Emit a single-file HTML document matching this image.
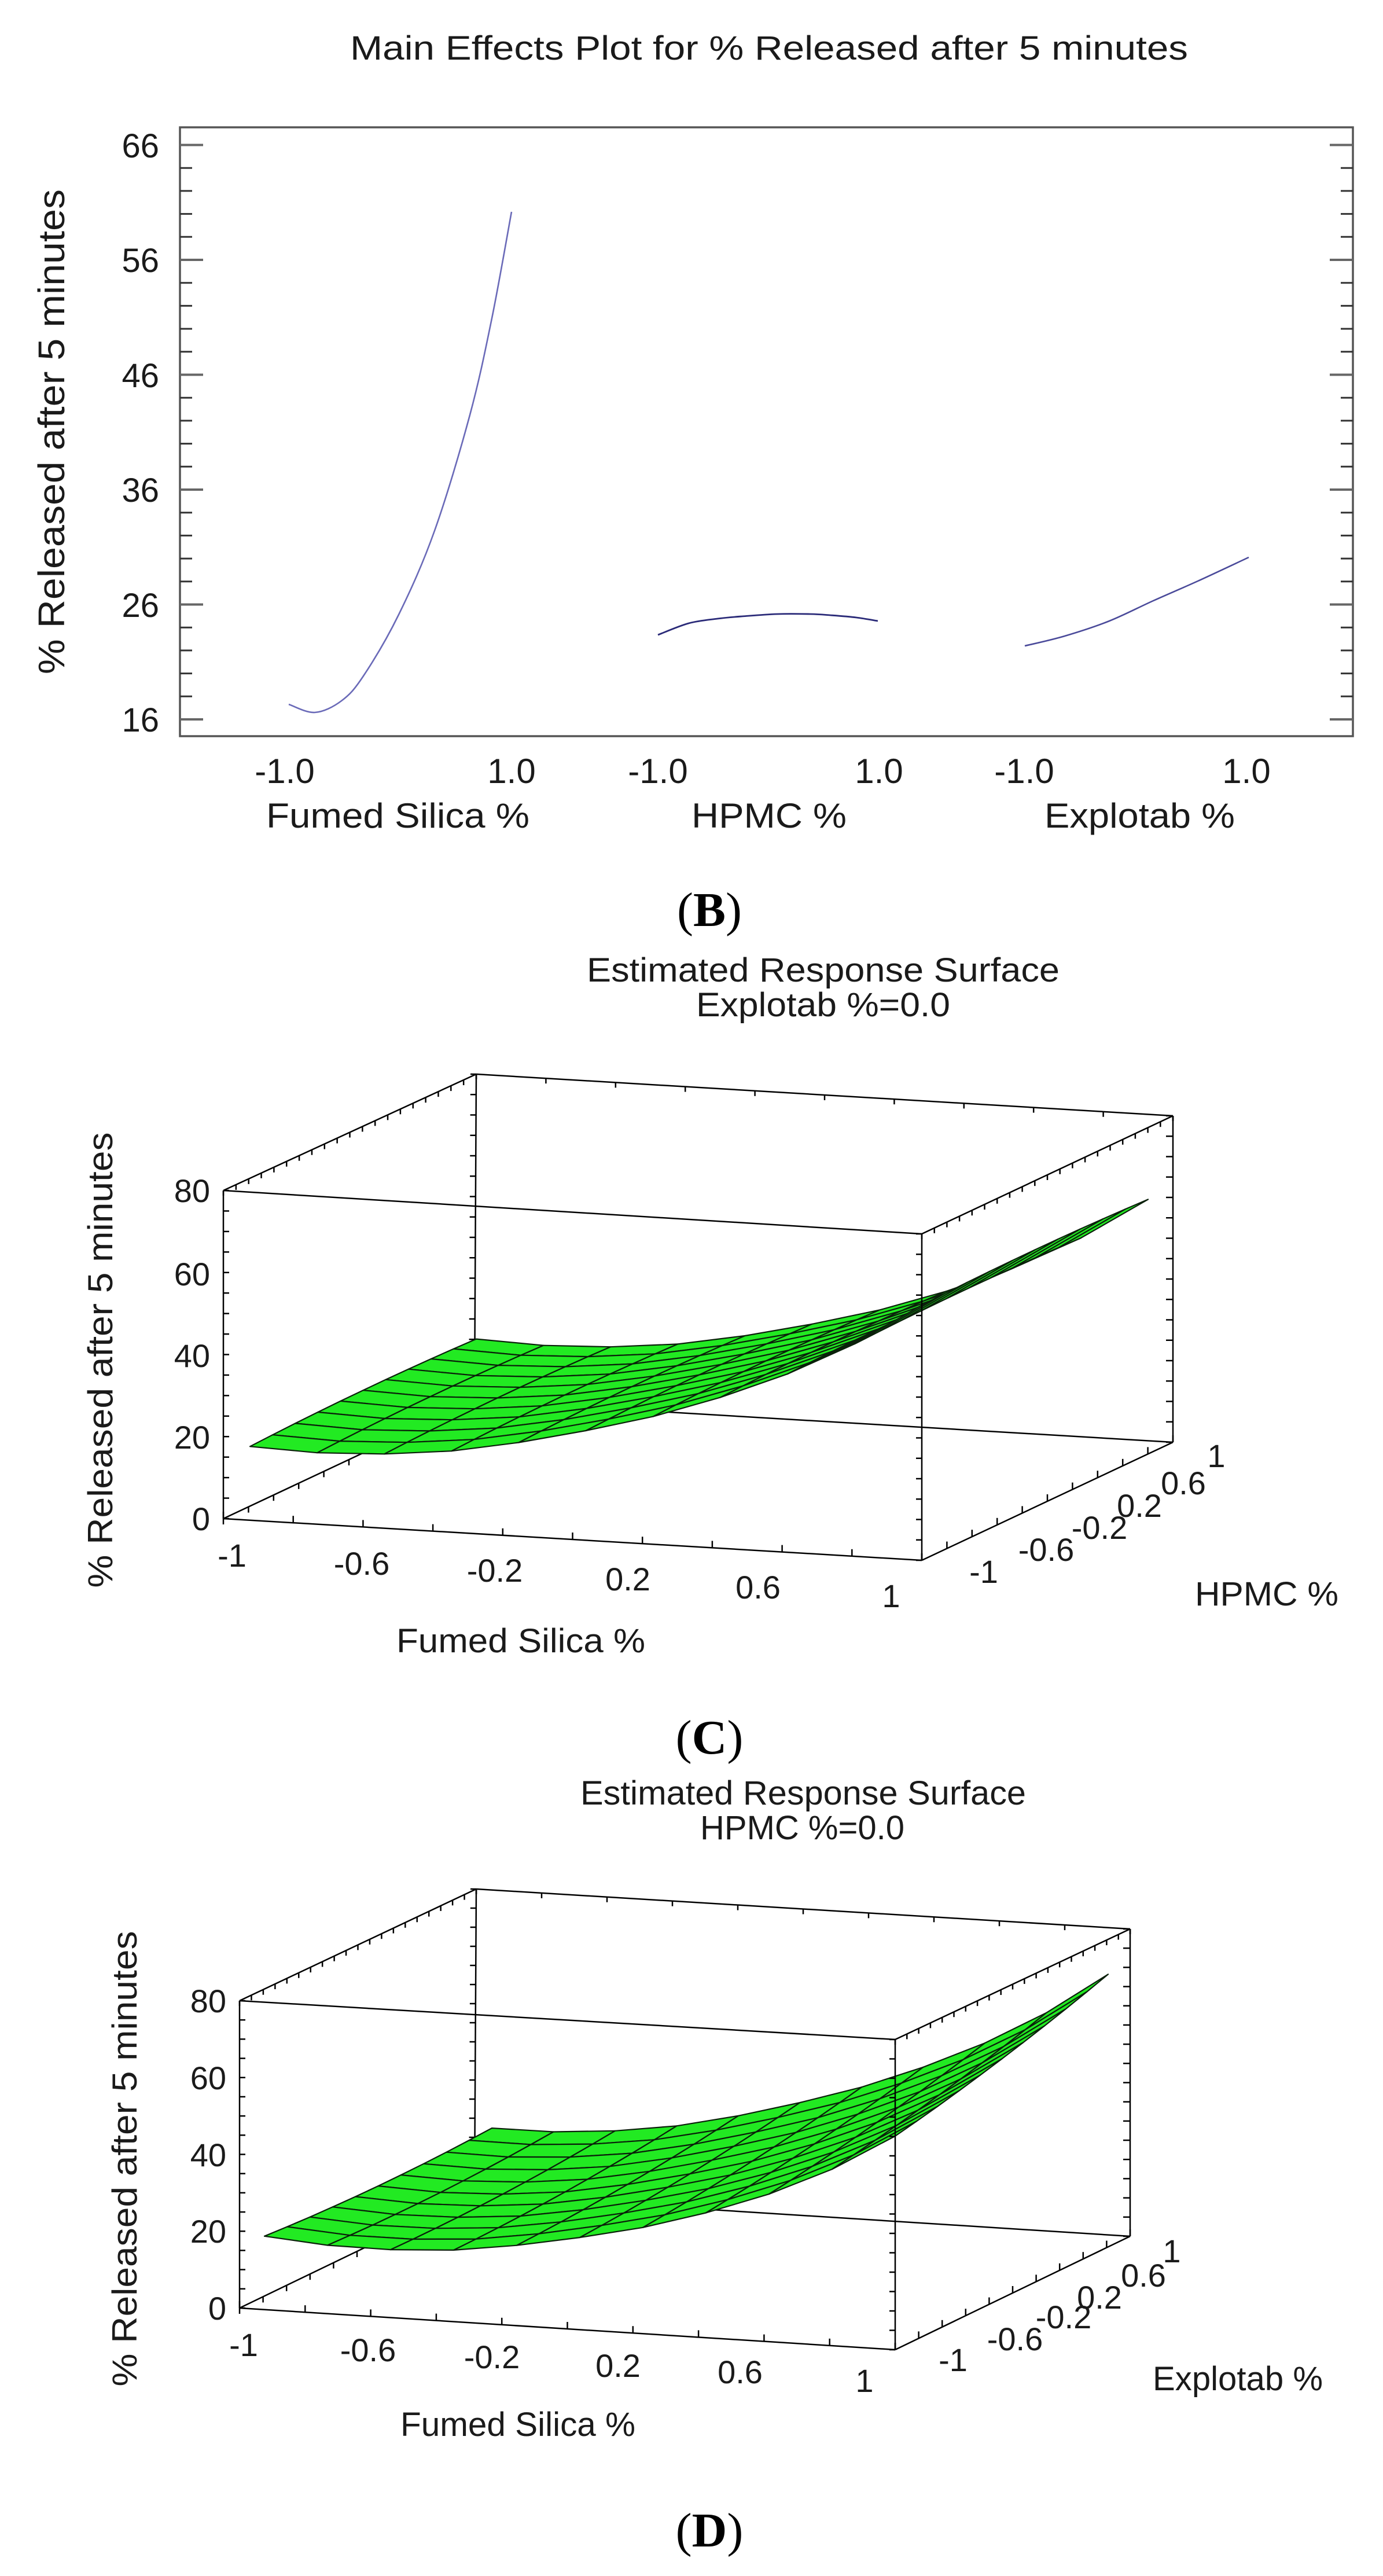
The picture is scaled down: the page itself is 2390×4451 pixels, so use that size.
<!DOCTYPE html>
<html><head><meta charset="utf-8"><style>
html,body{margin:0;padding:0;background:#fff}
svg{display:block}
text{font-family:"Liberation Sans",Arial,sans-serif;fill:#1a1a1a}
.serif{font-family:"Liberation Serif","Times New Roman",serif;fill:#000}
</style></head><body>
<svg id="s" xmlns="http://www.w3.org/2000/svg" width="2390" height="4451" viewBox="0 0 2390 4451">
<rect width="2390" height="4451" fill="#fff"/>
<g id="g1"></g>
<text x="605" y="103" font-size="58" textLength="1448" lengthAdjust="spacingAndGlyphs">Main Effects Plot for % Released after 5 minutes</text>
<g font-size="58" text-anchor="end">
<text x="275" y="272">66</text>
<text x="275" y="470">56</text>
<text x="275" y="669">46</text>
<text x="275" y="867">36</text>
<text x="275" y="1066">26</text>
<text x="275" y="1264">16</text>
</g>
<text transform="translate(111,746) rotate(-90)" text-anchor="middle" font-size="64" textLength="838" lengthAdjust="spacingAndGlyphs">% Released after 5 minutes</text>
<g font-size="60" text-anchor="middle">
<text x="492" y="1353">-1.0</text>
<text x="884" y="1353">1.0</text>
<text x="1137" y="1353">-1.0</text>
<text x="1519" y="1353">1.0</text>
<text x="1770" y="1353">-1.0</text>
<text x="2154" y="1353">1.0</text>
</g>
<g font-size="60">
<text x="460" y="1430" textLength="455" lengthAdjust="spacingAndGlyphs">Fumed Silica %</text>
<text x="1195" y="1430" textLength="268" lengthAdjust="spacingAndGlyphs">HPMC %</text>
<text x="1805" y="1430" textLength="329" lengthAdjust="spacingAndGlyphs">Explotab %</text>
</g>
<text class="serif" x="1226" y="1600" font-size="84" text-anchor="middle">(<tspan font-weight="bold">B</tspan>)</text>

<g id="g2"></g>
<text x="1014" y="1696" font-size="58" textLength="817" lengthAdjust="spacingAndGlyphs">Estimated Response Surface</text>
<text x="1203" y="1756" font-size="58" textLength="439" lengthAdjust="spacingAndGlyphs">Explotab %=0.0</text>
<g font-size="56" text-anchor="end">
<text x="363" y="2077">80</text>
<text x="363" y="2221">60</text>
<text x="363" y="2362">40</text>
<text x="363" y="2503">20</text>
<text x="363" y="2644">0</text>
</g>
<g font-size="56" text-anchor="middle">
<text x="401" y="2707">-1</text>
<text x="625" y="2721">-0.6</text>
<text x="855" y="2733">-0.2</text>
<text x="1085" y="2748">0.2</text>
<text x="1310" y="2762">0.6</text>
<text x="1540" y="2777">1</text>
<text x="1700" y="2735">-1</text>
<text x="1808" y="2697">-0.6</text>
<text x="1900" y="2659">-0.2</text>
<text x="1969" y="2621">0.2</text>
<text x="2045" y="2582">0.6</text>
<text x="2102" y="2535">1</text>
</g>
<text x="685" y="2855" font-size="58" textLength="430" lengthAdjust="spacingAndGlyphs">Fumed Silica %</text>
<text x="2065" y="2774" font-size="58" textLength="248" lengthAdjust="spacingAndGlyphs">HPMC %</text>
<text transform="translate(194,2350) rotate(-90)" text-anchor="middle" font-size="60" textLength="787" lengthAdjust="spacingAndGlyphs">% Released after 5 minutes</text>
<text class="serif" x="1226" y="3030" font-size="84" text-anchor="middle">(<tspan font-weight="bold">C</tspan>)</text>

<g id="g3"></g>
<text x="1003" y="3118" font-size="58" textLength="770" lengthAdjust="spacingAndGlyphs">Estimated Response Surface</text>
<text x="1210" y="3178" font-size="58" textLength="353" lengthAdjust="spacingAndGlyphs">HPMC %=0.0</text>
<g font-size="56" text-anchor="end">
<text x="391" y="3477">80</text>
<text x="391" y="3610">60</text>
<text x="391" y="3743">40</text>
<text x="391" y="3875">20</text>
<text x="391" y="4008">0</text>
</g>
<g font-size="56" text-anchor="middle">
<text x="421" y="4071">-1</text>
<text x="636" y="4080">-0.6</text>
<text x="850" y="4092">-0.2</text>
<text x="1068" y="4107">0.2</text>
<text x="1279" y="4118">0.6</text>
<text x="1494" y="4133">1</text>
<text x="1647" y="4097">-1</text>
<text x="1754" y="4061">-0.6</text>
<text x="1838" y="4023">-0.2</text>
<text x="1900" y="3989">0.2</text>
<text x="1976" y="3951">0.6</text>
<text x="2025" y="3909">1</text>
</g>
<text x="692" y="4209" font-size="58" textLength="406" lengthAdjust="spacingAndGlyphs">Fumed Silica %</text>
<text x="1992" y="4130" font-size="58" textLength="294" lengthAdjust="spacingAndGlyphs">Explotab %</text>
<text transform="translate(236,3730) rotate(-90)" text-anchor="middle" font-size="60" textLength="787" lengthAdjust="spacingAndGlyphs">% Released after 5 minutes</text>
<text class="serif" x="1226" y="4400" font-size="84" text-anchor="middle">(<tspan font-weight="bold">D</tspan>)</text>
</svg>
<script>
(function(){
var NS="http://www.w3.org/2000/svg";
function el(p,t,a){var e=document.createElementNS(NS,t);for(var k in a)e.setAttribute(k,a[k]);p.appendChild(e);return e;}
function line(p,a,b,w,c){el(p,'line',{x1:a[0],y1:a[1],x2:b[0],y2:b[1],stroke:c||'#000','stroke-width':w||2.5});}
function smooth(pts){var d='M'+pts[0][0]+','+pts[0][1];for(var i=0;i<pts.length-1;i++){var p0=pts[Math.max(0,i-1)],p1=pts[i],p2=pts[i+1],p3=pts[Math.min(pts.length-1,i+2)];var c1=[p1[0]+(p2[0]-p0[0])/6,p1[1]+(p2[1]-p0[1])/6],c2=[p2[0]-(p3[0]-p1[0])/6,p2[1]-(p3[1]-p1[1])/6];d+=' C'+c1[0].toFixed(1)+','+c1[1].toFixed(1)+' '+c2[0].toFixed(1)+','+c2[1].toFixed(1)+' '+p2[0]+','+p2[1];}return d;}
var g1=document.getElementById('g1');
el(g1,'rect',{x:311,y:220,width:2027,height:1052,fill:'none',stroke:'#555','stroke-width':3.5});
for(var v=16;v<=66;v+=2){var y=1243-(v-16)*19.85;var maj=((v-16)%10==0);var L=maj?40:21;
line(g1,[311,y],[311+L,y],maj?4:3,maj?'#666':'#333');line(g1,[2338,y],[2338-L,y],maj?4:3,maj?'#666':'#333');}
var fum=[[499,1217],[544,1231],[590,1211],[628,1168],[689,1062],[751,917],[812,717],[850,550],[884,366]];
var hp=[[1137,1097],[1190,1077],[1240,1069],[1282,1065],[1343,1061],[1400,1061],[1435,1063],[1480,1067],[1517,1073]];
var ex=[[1771,1116],[1840,1099],[1917,1073],[1993,1038],[2070,1004],[2158,963]];
el(g1,'path',{d:smooth(fum),fill:'none',stroke:'#6a6ab8','stroke-width':2.6});
el(g1,'path',{d:smooth(hp),fill:'none',stroke:'#2a2a78','stroke-width':2.8});
el(g1,'path',{d:smooth(ex),fill:'none',stroke:'#4a4a9a','stroke-width':2.6});
var FT=fum.map(function(p){return [(p[0]-499)/385*2-1,16+(1243-p[1])/19.85];});
function F(x){for(var i=0;i<FT.length-1;i++){if(x<=FT[i+1][0]||i==FT.length-2){var t=(x-FT[i][0])/(FT[i+1][0]-FT[i][0]);var a=FT[Math.max(0,i-1)][1],b=FT[i][1],c=FT[i+1][1],d=FT[Math.min(FT.length-1,i+2)][1];
return b+0.5*t*(c-a+t*(2*a-5*b+4*c-d+t*(3*(b-c)+d-a)));}}return FT[FT.length-1][1];}
function chart(g,cfg){
var B=cfg.box;
function T(p0,p1,n,dir,len,w){for(var i=0;i<=n;i++){var t=i/n;var x=p0[0]+(p1[0]-p0[0])*t,y=p0[1]+(p1[1]-p0[1])*t;line(g,[x,y],[x+dir[0]*len,y+dir[1]*len],w||2.5);}}
line(g,B.BTL,B.BBL);line(g,B.BBL,B.BBR);line(g,B.FBL,B.BBL);
T(B.BTL,B.BBL,16,[-1,0],10);T(B.FBL,B.BBL,10,[0,1],10);
function P(x,h,z){var u=(x+1)/2,v=(h+1)/2;var c=cfg.c;var bx=c.LF[0]*(1-u)*(1-v)+c.RF[0]*u*(1-v)+c.RB[0]*u*v+c.LB[0]*(1-u)*v;var by=c.LF[1]*(1-u)*(1-v)+c.RF[1]*u*(1-v)+c.RB[1]*u*v+c.LB[1]*(1-u)*v;return [bx,by-z*cfg.zs];}
function f(x,h){var u=(x+1)/2,v=(h+1)/2,o=cfg.o;return F(x)+o[0]*(1-u)*(1-v)+o[1]*u*(1-v)+o[2]*u*v+o[3]*(1-u)*v+cfg.q*(1-h*h);}
var N=10,sg=el(g,'g',{});
for(var j=N-1;j>=0;j--){for(var i=0;i<N;i++){var x0=-1+2*i/N,x1=-1+2*(i+1)/N,h0=-1+2*j/N,h1=-1+2*(j+1)/N;
var pts=[P(x0,h0,f(x0,h0)),P(x1,h0,f(x1,h0)),P(x1,h1,f(x1,h1)),P(x0,h1,f(x0,h1))];
el(sg,'polygon',{points:pts.map(function(p){return p[0].toFixed(1)+','+p[1].toFixed(1);}).join(' '),fill:'#22ea22',stroke:'#0a200a','stroke-width':2.2,'stroke-linejoin':'round'});}}
line(g,B.FTL,B.BTL);line(g,B.BTL,B.BTR);line(g,B.BTR,B.FTR);line(g,B.FTL,B.FTR);
line(g,B.FTL,B.FBL);line(g,B.FTR,B.FBR);line(g,B.FBL,B.FBR);line(g,B.FBR,B.BBR);line(g,B.BBR,B.BTR);
T(B.FTL,B.FBL,16,[1,0],10);T(B.FTR,B.FBR,16,[-1,0],10);T(B.BTR,B.BBR,16,[-1,0],12);
T(B.FTL,B.BTL,20,[0,1],9);T(B.FTR,B.BTR,20,[0,1],9);T(B.FBR,B.BBR,10,[0,-1],12);T(B.FBL,B.FBR,10,[0,-1],12);T(B.BTL,B.BTR,10,[0,1],9);
}
chart(document.getElementById('g2'),{
box:{FBL:[386,2624],FBR:[1593,2696],BBR:[2027,2492],BBL:[820,2420],FTL:[386,2057],FTR:[1593,2132],BTR:[2027,1928],BTL:[823,1856]},
c:{LF:[432,2627],RF:[1593,2696],RB:[1984,2492],LB:[823,2420]},zs:7.09,o:[0.7,2,-1,-2.3],q:0.6});
chart(document.getElementById('g3'),{
box:{FBL:[414,3988],FBR:[1547,4060],BBR:[1953,3864],BBL:[820,3792],FTL:[414,3457],FTR:[1547,3524],BTR:[1953,3333],BTL:[823,3264]},
c:{LF:[457,3988],RF:[1547,4060],RB:[1915,3864],LB:[850,3792]},zs:6.64,o:[1.4,-4.6,8,0],q:-1});
})();
</script>
</body></html>
